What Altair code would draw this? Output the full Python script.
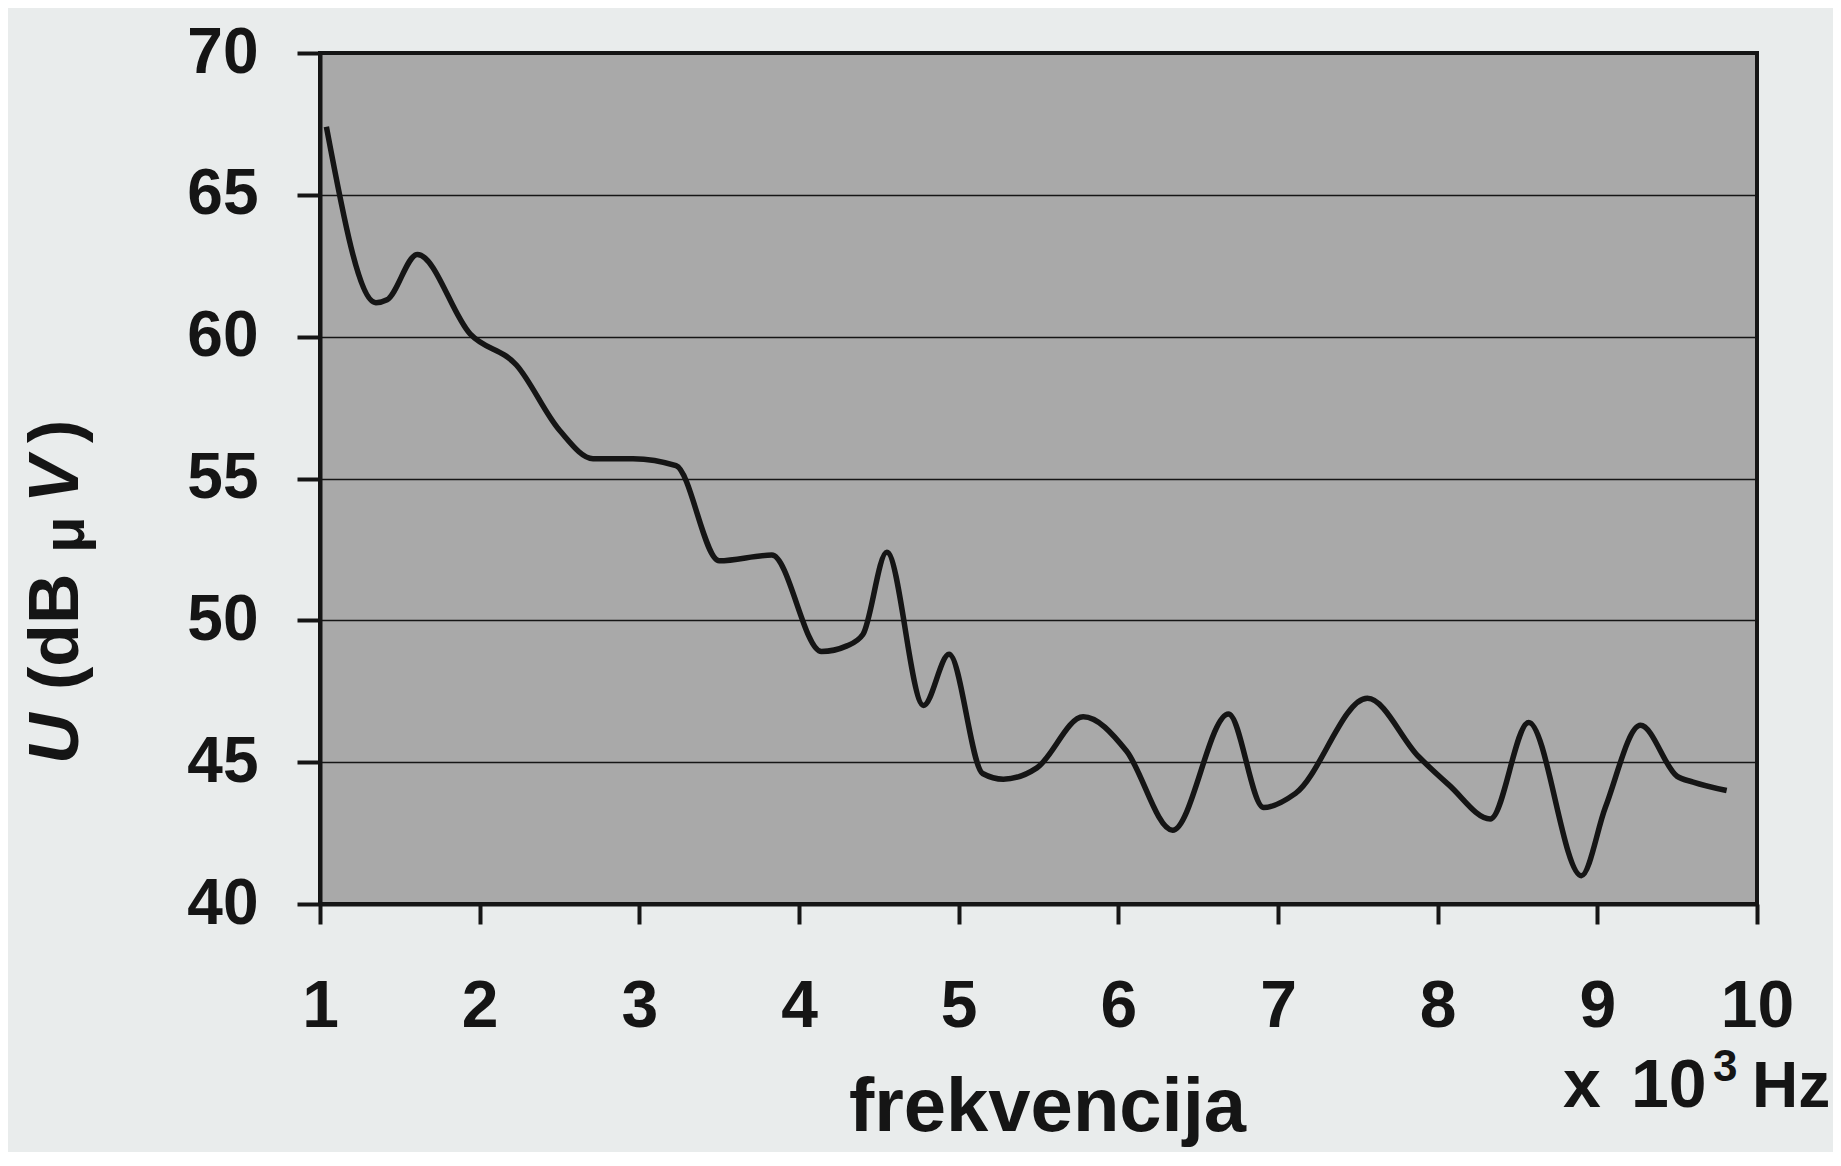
import altair as alt
import pandas as pd

# frequency (x 10^3 Hz) and level U (dBµV)
freq = [1.04, 1.35, 1.42, 1.61, 1.94, 2.23, 2.50, 2.71, 2.96, 3.23, 3.50, 3.83,
        4.14, 4.30, 4.40, 4.55, 4.78, 4.94, 5.15, 5.28, 5.49, 5.78, 6.05, 6.34,
        6.69, 6.91, 7.11, 7.56, 7.88, 8.07, 8.33, 8.57, 8.90, 9.05, 9.27, 9.50,
        9.60, 9.81]
level = [67.4, 61.2, 61.3, 62.9, 60.1, 59.0, 56.7, 55.7, 55.7, 55.45, 52.1, 52.3,
         48.9, 49.1, 49.5, 52.4, 47.0, 48.8, 44.6, 44.4, 44.8, 46.6, 45.4, 42.6,
         46.7, 43.4, 43.9, 47.25, 45.2, 44.2, 43.0, 46.4, 41.0, 43.4, 46.3, 44.5,
         44.3, 44.0]
x_ticks = [1, 2, 3, 4, 5, 6, 7, 8, 9, 10]
y_ticks = [40, 45, 50, 55, 60, 65, 70]

df = pd.DataFrame({"f": freq, "u": level})

FONT = "Liberation Sans"
INK = "#151515"

line = alt.Chart(df).mark_line(
    color=INK, strokeWidth=5.5, interpolate="monotone"
).encode(
    x=alt.X("f:Q",
            scale=alt.Scale(domain=[1, 10], nice=False, zero=False),
            axis=alt.Axis(values=x_ticks, format="d", grid=False,
                          tickSize=20, tickWidth=4, tickColor=INK,
                          domainWidth=4, domainColor=INK,
                          labelFont=FONT, labelFontSize=66, labelFontWeight="bold",
                          labelColor=INK, labelBaseline="alphabetic", labelPadding=102,
                          labelFlush=False,
                          title="frekvencija", titleFont=FONT, titleFontSize=76,
                          titleFontWeight="bold", titleColor=INK,
                          titleBaseline="alphabetic", titleAlign="center",
                          titleX=727, titleY=226)),
    y=alt.Y("u:Q",
            scale=alt.Scale(domain=[40, 70], nice=False, zero=False),
            axis=alt.Axis(values=y_ticks, grid=True, gridColor=INK, gridWidth=1.6,
                          gridOpacity=1,
                          tickSize=23, tickWidth=4, tickColor=INK,
                          domainWidth=4, domainColor=INK,
                          labelFont=FONT, labelFontSize=64, labelFontWeight="bold",
                          labelColor=INK, labelBaseline="middle", labelPadding=39,
                          labelFlush=False, title=None)),
)

def label(txt, x, y, size=70, angle=0, style="normal"):
    return alt.Chart(alt.Data(values=[{}])).mark_text(
        font=FONT, fontSize=size, fontWeight="bold", fontStyle=style,
        color=INK, align="left", baseline="alphabetic", angle=angle,
    ).encode(x=alt.value(x), y=alt.value(y), text=alt.value(txt))

# y-axis title "U (dBµV)" with italic U, V and subscript µ
ytitle = [
    label("U", -242, 711, 70, 270, "italic"),
    label("(dB", -242, 637, 70, 270),
    label("\u03bc", -236, 500, 60, 270),
    label("V", -242, 450, 70, 270, "italic"),
    label(")", -242, 390, 70, 270),
]
# unit "x 10^3 Hz"
unit = [
    label("x", 1243, 1054, 68),
    label("10", 1311, 1054, 68),
    label("3", 1393, 1028, 44),
    label("Hz", 1432, 1054, 64),
]

chart = alt.layer(line, *ytitle, *unit).properties(
    width=1437, height=851,
    autosize=alt.AutoSizeParams(type="none"),
    padding={"left": 312, "top": 45, "right": 76, "bottom": 248},
    background="#e9ecec",
).configure_view(
    fill="#a9a9a9", stroke=INK, strokeWidth=4
)

chart.save("out.html", embed_options={"renderer": "svg", "actions": False})
